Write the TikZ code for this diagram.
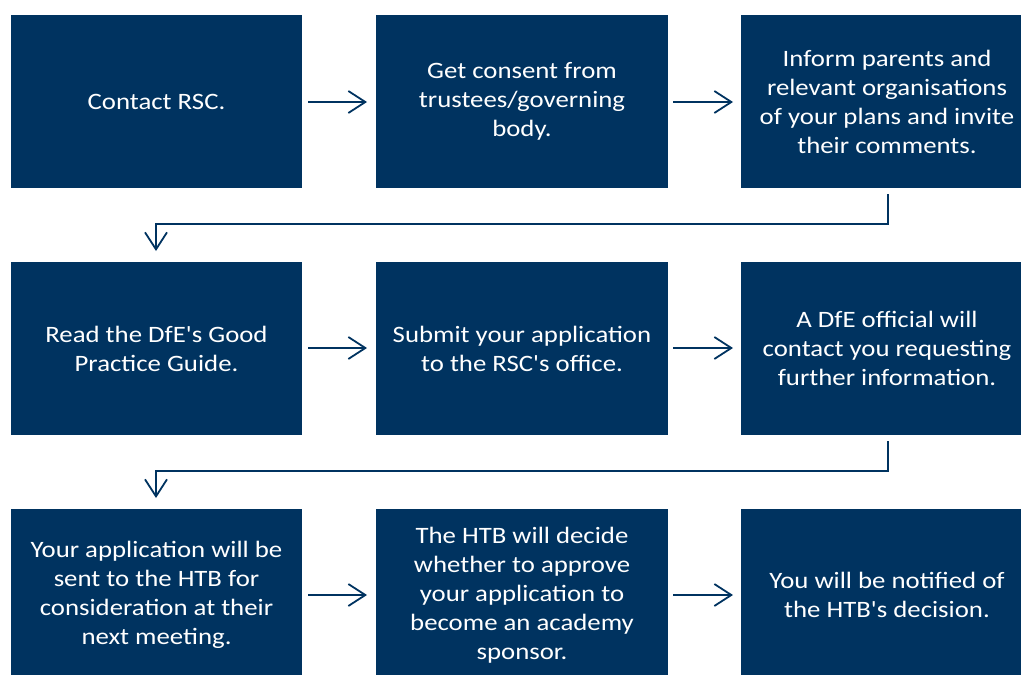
\documentclass[tikz,border=0pt]{standalone}
\usepackage{fontspec}
\newfontfamily\boxfont[FakeStretch=1.14]{Carlito}
\usetikzlibrary{arrows.meta}
\definecolor{navy}{RGB}{0,51,96}
\tikzset{
  stepbox/.style={fill=navy, draw=none, inner sep=0pt, text=white, align=center,
    font=\boxfont\fontsize{23.5}{29}\selectfont},
  conn/.style={draw=navy, line width=1.8pt, -{Straight Barb[length=17pt,width=22pt,line width=1.8pt]}},
}
\begin{document}
\begin{tikzpicture}[x=1pt,y=-1pt]
\useasboundingbox (0,0) rectangle (1021,675);
\begin{scope}
\clip (0,0) rectangle (1021,675);
% row 1
\fill[navy] (11,15) rectangle (302,188);
\node[stepbox] (a1) at (156.5,101.5) {Contact RSC.};
\fill[navy] (376,15) rectangle (668,188);
\node[stepbox] (a2) at (522,101.5) {Get consent from\\trustees/governing\\body.};
\fill[navy] (741,15) rectangle (1021,188);
\node[stepbox] (a3) at (887,101.5) {Inform parents and\\relevant organisations\\of your plans and invite\\their comments.};
% row 2
\fill[navy] (11,262) rectangle (302,435);
\node[stepbox] (b1) at (156.5,348.5) {Read the DfE's Good\\Practice Guide.};
\fill[navy] (376,262) rectangle (668,435);
\node[stepbox] (b2) at (522,348.5) {Submit your application\\to the RSC's office.};
\fill[navy] (741,262) rectangle (1021,435);
\node[stepbox] (b3) at (887,348.5) {A DfE official will\\contact you requesting\\further information.};
% row 3
\fill[navy] (11,509) rectangle (302,682);
\node[stepbox] (c1) at (156.5,595) {Your application will be\\sent to the HTB for\\consideration at their\\next meeting.};
\fill[navy] (376,509) rectangle (668,682);
\node[stepbox] (c2) at (522,595) {The HTB will decide\\whether to approve\\your application to\\become an academy\\sponsor.};
\fill[navy] (741,509) rectangle (1021,682);
\node[stepbox] (c3) at (887,595) {You will be notified of\\the HTB's decision.};
\end{scope}
% horizontal arrow coordinates
\coordinate (h1s) at (308,102); \coordinate (h1e) at (367,102);
\coordinate (h2s) at (673,102); \coordinate (h2e) at (733,102);
\coordinate (h3s) at (308,348); \coordinate (h3e) at (367,348);
\coordinate (h4s) at (673,348); \coordinate (h4e) at (733,348);
\coordinate (h5s) at (308,595); \coordinate (h5e) at (367,595);
\coordinate (h6s) at (673,595); \coordinate (h6e) at (733,595);
\draw[conn] (h1s) -- (h1e);
\draw[conn] (h2s) -- (h2e);
\draw[conn] (h3s) -- (h3e);
\draw[conn] (h4s) -- (h4e);
\draw[conn] (h5s) -- (h5e);
\draw[conn] (h6s) -- (h6e);
% bent connectors
\coordinate (d1s) at (888,194); \coordinate (d1e) at (156,251);
\coordinate (d2s) at (888,441); \coordinate (d2e) at (156,498);
\draw[conn] (d1s) -- (888,224) -| (d1e);
\draw[conn] (d2s) -- (888,471) -| (d2e);
\end{tikzpicture}
\end{document}
